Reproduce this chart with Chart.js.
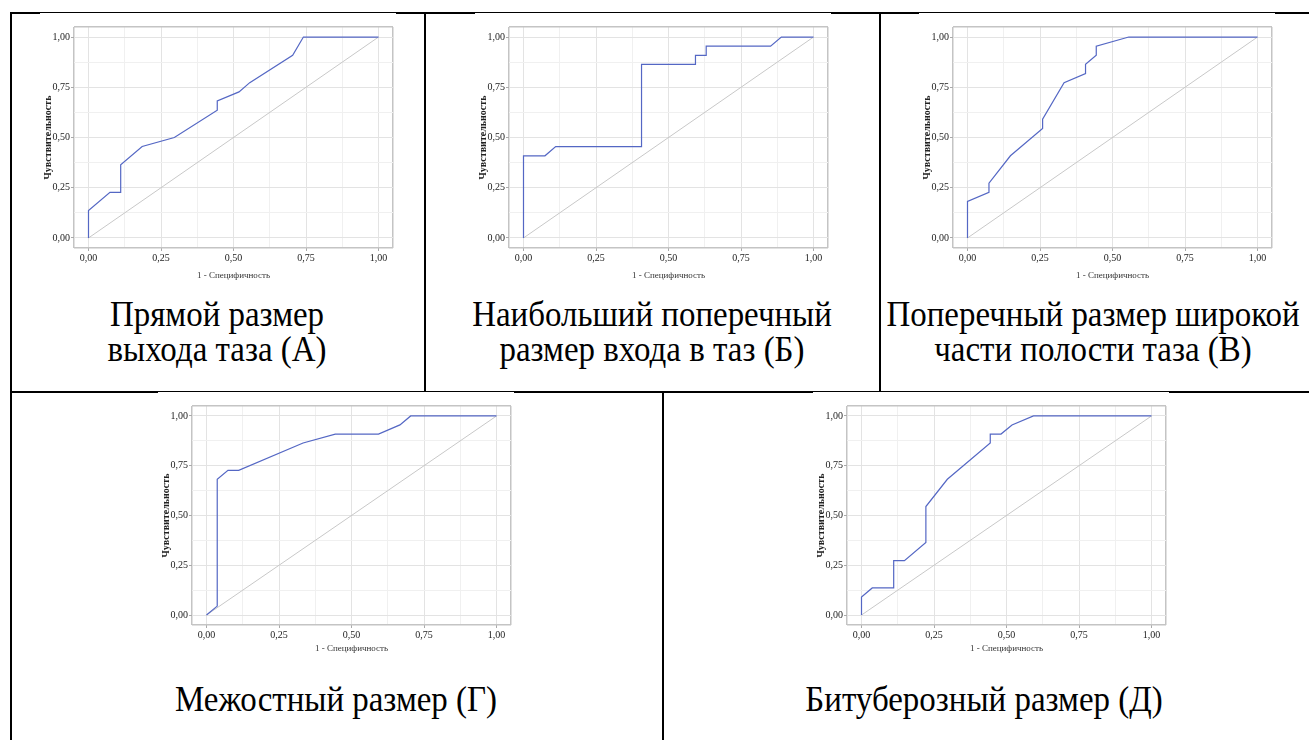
<!DOCTYPE html>
<html>
<head>
<meta charset="utf-8">
<script src="https://cdn.jsdelivr.net/npm/chart.js@4.4.1/dist/chart.umd.min.js"></script>
<style>
  body { margin: 0; background: #fff; width: 1309px; height: 740px; overflow: hidden; position: relative;
         font-family: "Liberation Serif", "Times New Roman", serif; }
  .ln { position: absolute; background: #000; }
  .fig { position: absolute; background: #fff; border-top: 1px solid #000; }
  .fig canvas { display: block; }
  .cap { position: absolute; width: 600px; text-align: center; font-size: 36px; line-height: 35px; color: #000;
         white-space: nowrap; transform: scaleX(0.915); transform-origin: center; }
</style>
</head>
<body>

<!-- table lines -->
<div class="ln" style="left:10px;top:12px;width:1299px;height:2px"></div>
<div class="ln" style="left:10px;top:12px;width:2px;height:728px"></div>
<div class="ln" style="left:424px;top:12px;width:2px;height:380px"></div>
<div class="ln" style="left:879px;top:12px;width:2px;height:380px"></div>
<div class="ln" style="left:10px;top:391px;width:1299px;height:2px"></div>
<div class="ln" style="left:662px;top:391px;width:2px;height:349px"></div>

<div class="fig" style="left:40px;top:12px"><canvas id="rocA" width="356" height="274"></canvas></div>
<div class="fig" style="left:475px;top:12px"><canvas id="rocB" width="356" height="274"></canvas></div>
<div class="fig" style="left:919px;top:12px"><canvas id="rocC" width="356" height="274"></canvas></div>
<div class="fig" style="left:158px;top:391px"><canvas id="rocD" width="356" height="270"></canvas></div>
<div class="fig" style="left:813px;top:391px"><canvas id="rocE" width="356" height="270"></canvas></div>

<!-- captions: each box is 600px wide, centred on its table cell -->
<div class="cap" style="left:-83px;top:297px">Прямой размер<br>выхода таза (А)</div>
<div class="cap" style="left:352px;top:297px">Наибольший поперечный<br>размер входа в таз (Б)</div>
<div class="cap" style="left:793px;top:297px">Поперечный размер широкой<br>части полости таза (В)</div>
<div class="cap" style="left:36px;top:682px">Межостный размер (Г)</div>
<div class="cap" style="left:684px;top:682px">Битуберозный размер (Д)</div>

<script>
// 1 - specificity (x) and sensitivity (y) for each ROC curve
const fprA = [0, 0, 0.074, 0.111, 0.111, 0.185, 0.296, 0.444, 0.444, 0.519, 0.556, 0.704, 0.741, 1];
const tprA = [0, 0.136, 0.227, 0.227, 0.364, 0.455, 0.5, 0.636, 0.682, 0.727, 0.773, 0.909, 1, 1];

const fprB = [0, 0, 0.074, 0.111, 0.407, 0.407, 0.593, 0.593, 0.630, 0.630, 0.852, 0.889, 1];
const tprB = [0, 0.409, 0.409, 0.455, 0.455, 0.864, 0.864, 0.909, 0.909, 0.955, 0.955, 1, 1];

const fprC = [0, 0, 0.074, 0.074, 0.148, 0.259, 0.259, 0.333, 0.407, 0.407, 0.444, 0.444, 0.556, 1];
const tprC = [0, 0.182, 0.227, 0.273, 0.409, 0.545, 0.591, 0.773, 0.818, 0.864, 0.909, 0.955, 1, 1];

const fprD = [0, 0.037, 0.037, 0.074, 0.111, 0.333, 0.444, 0.593, 0.667, 0.704, 1];
const tprD = [0, 0.045, 0.682, 0.727, 0.727, 0.864, 0.909, 0.909, 0.955, 1, 1];

const fprE = [0, 0, 0.037, 0.111, 0.111, 0.148, 0.222, 0.222, 0.296, 0.444, 0.444, 0.481, 0.519, 0.593, 1];
const tprE = [0, 0.091, 0.136, 0.136, 0.273, 0.273, 0.364, 0.545, 0.682, 0.864, 0.909, 0.909, 0.955, 1, 1];

// reference diagonal
const diagX = [0, 1];
const diagY = [0, 1];

// axis ticks
const majorTicks = [0, 0.25, 0.5, 0.75, 1];
const minorTicks = [0.125, 0.375, 0.625, 0.875];
const axisMin = -0.05;
const axisMax = 1.05;

const xTitle = "1 - Специфичность";
const yTitle = "Чувствительность";

const fmt = v => v.toFixed(2).replace(".", ",");
const isEdge = v => v === axisMin || v === axisMax;
const isMajor = v => majorTicks.includes(v);

function axis(extra) {
  return Object.assign({
    type: "linear",
    min: axisMin,
    max: axisMax,
    afterBuildTicks: s => {
      s.ticks = [axisMin, ...majorTicks, ...minorTicks, axisMax]
        .sort((a, b) => a - b)
        .map(v => ({ value: v }));
    },
    ticks: {
      autoSkip: false,
      maxRotation: 0,
      minRotation: 0,
      padding: 1,
      color: "#222",
      font: { family: "Liberation Serif", size: 10 },
      callback: v => isMajor(v) ? fmt(v) : ""
    },
    grid: {
      color: c => isEdge(c.tick.value) ? "#c4c4c4" : isMajor(c.tick.value) ? "#e3e3e3" : "#f0f0f0",
      lineWidth: c => isEdge(c.tick.value) ? 1.5 : 1,
      tickLength: 3,
      tickColor: c => isMajor(c.tick.value) ? "#aaa" : "rgba(0,0,0,0)"
    },
    border: { display: false }
  }, extra);
}

function rocChart(id, fpr, tpr, row) {
  const ctx = document.getElementById(id);
  new Chart(ctx, {
    type: "scatter",
    data: {
      datasets: [
        {
          data: fpr.map((x, i) => ({ x: x, y: tpr[i] })),
          showLine: true,
          borderColor: "#5467c4",
          borderWidth: 1.2,
          pointRadius: 0,
          tension: 0,
          order: 0
        },
        {
          data: diagX.map((x, i) => ({ x: x, y: diagY[i] })),
          showLine: true,
          borderColor: "#c8c8c8",
          borderWidth: 1,
          pointRadius: 0,
          order: 1
        }
      ]
    },
    options: {
      responsive: false,
      animation: false,
      devicePixelRatio: 1,
      layout: { padding: { left: 0, right: 3, top: 14, bottom: row === "top" ? 4 : 6 } },
      plugins: { legend: { display: false }, tooltip: { enabled: false } },
      scales: {
        x: axis({
          afterFit: s => { s.height = row === "top" ? 35 : 31; },
          title: {
            display: true,
            text: xTitle,
            color: "#333",
            font: { family: "Liberation Serif", size: 9 },
            padding: { top: 0, bottom: 2 }
          }
        }),
        y: axis({
          afterFit: s => { s.width = 34; },
          title: {
            display: true,
            text: yTitle,
            color: "#222",
            font: { family: "Liberation Serif", size: 10, weight: "bold" },
            padding: { top: 2, bottom: 0 }
          }
        })
      }
    }
  });
}

rocChart("rocA", fprA, tprA, "top");
rocChart("rocB", fprB, tprB, "top");
rocChart("rocC", fprC, tprC, "top");
rocChart("rocD", fprD, tprD, "bottom");
rocChart("rocE", fprE, tprE, "bottom");
</script>
</body>
</html>
